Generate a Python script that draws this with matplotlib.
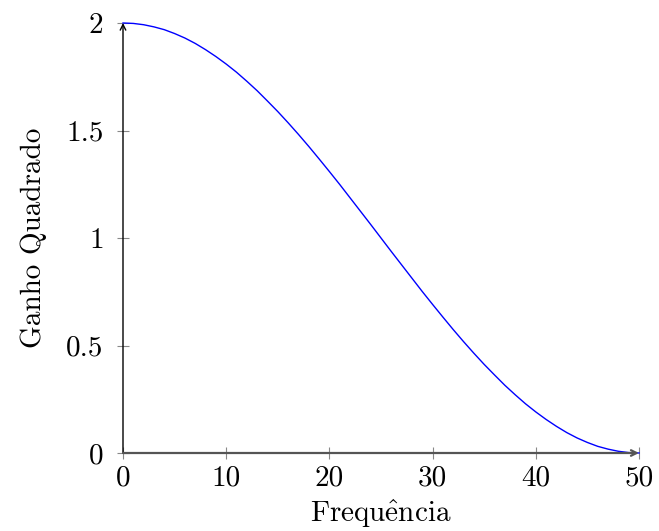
import matplotlib
matplotlib.use("Agg")
import matplotlib.pyplot as plt

plt.rcParams['font.family'] = ['cmr10', 'DejaVu Serif']
plt.rcParams['mathtext.fontset'] = 'cm'
plt.rcParams['axes.unicode_minus'] = False

freq = list(range(0, 51))
gain = [2.000, 1.998, 1.992, 1.982, 1.969, 1.951, 1.930, 1.905, 1.876,
        1.844, 1.809, 1.771, 1.729, 1.685, 1.637, 1.588, 1.536, 1.482,
        1.426, 1.368, 1.309, 1.249, 1.187, 1.125, 1.063, 1.000, 0.937,
        0.875, 0.813, 0.751, 0.691, 0.632, 0.574, 0.518, 0.464, 0.412,
        0.363, 0.315, 0.271, 0.229, 0.191, 0.156, 0.124, 0.095, 0.070,
        0.049, 0.031, 0.018, 0.008, 0.002, 0.000]
xticks = [0, 10, 20, 30, 40, 50]
xtick_labels = ['0', '10', '20', '30', '40', '50']
yticks = [0, 0.5, 1, 1.5, 2]
ytick_labels = ['0', '0.5', '1', '1.5', '2']

fig = plt.figure(figsize=(6.59, 5.31), dpi=100)
ax = fig.add_axes([123/659, 78/531, 516/659, 430/531])
ax.plot(freq, gain, color='blue', lw=1.0, clip_on=False, zorder=3)
ax.set_xlim(0, 50)
ax.set_ylim(0, 2)
for s in ['top', 'right', 'left', 'bottom']:
    ax.spines[s].set_visible(False)

# axis lines with arrows
ax.annotate('', xy=(0, 1), xytext=(0, 0), xycoords='axes fraction',
            arrowprops=dict(arrowstyle='->', color='black', lw=1.0,
                            shrinkA=0, shrinkB=0, mutation_scale=10))
ax.annotate('', xy=(1, 0), xytext=(0, 0), xycoords='axes fraction',
            arrowprops=dict(arrowstyle='->', color='#555555', lw=1.6,
                            shrinkA=0, shrinkB=0, mutation_scale=10))

ax.set_xticks(xticks)
ax.set_xticklabels(xtick_labels)
ax.set_yticks(yticks)
ax.set_yticklabels(ytick_labels)
ax.tick_params(direction='inout', length=8, width=0.8, color='#888888',
               labelsize=21)
ax.tick_params(axis='x', pad=5)
ax.tick_params(axis='y', pad=10)
ax.set_xlabel(r'Frequ$\hat{\mathrm{e}}$ncia', fontsize=21, labelpad=4)
ax.set_ylabel('Ganho Quadrado', fontsize=21, labelpad=14)

fig.savefig('out.png', dpi=100)
